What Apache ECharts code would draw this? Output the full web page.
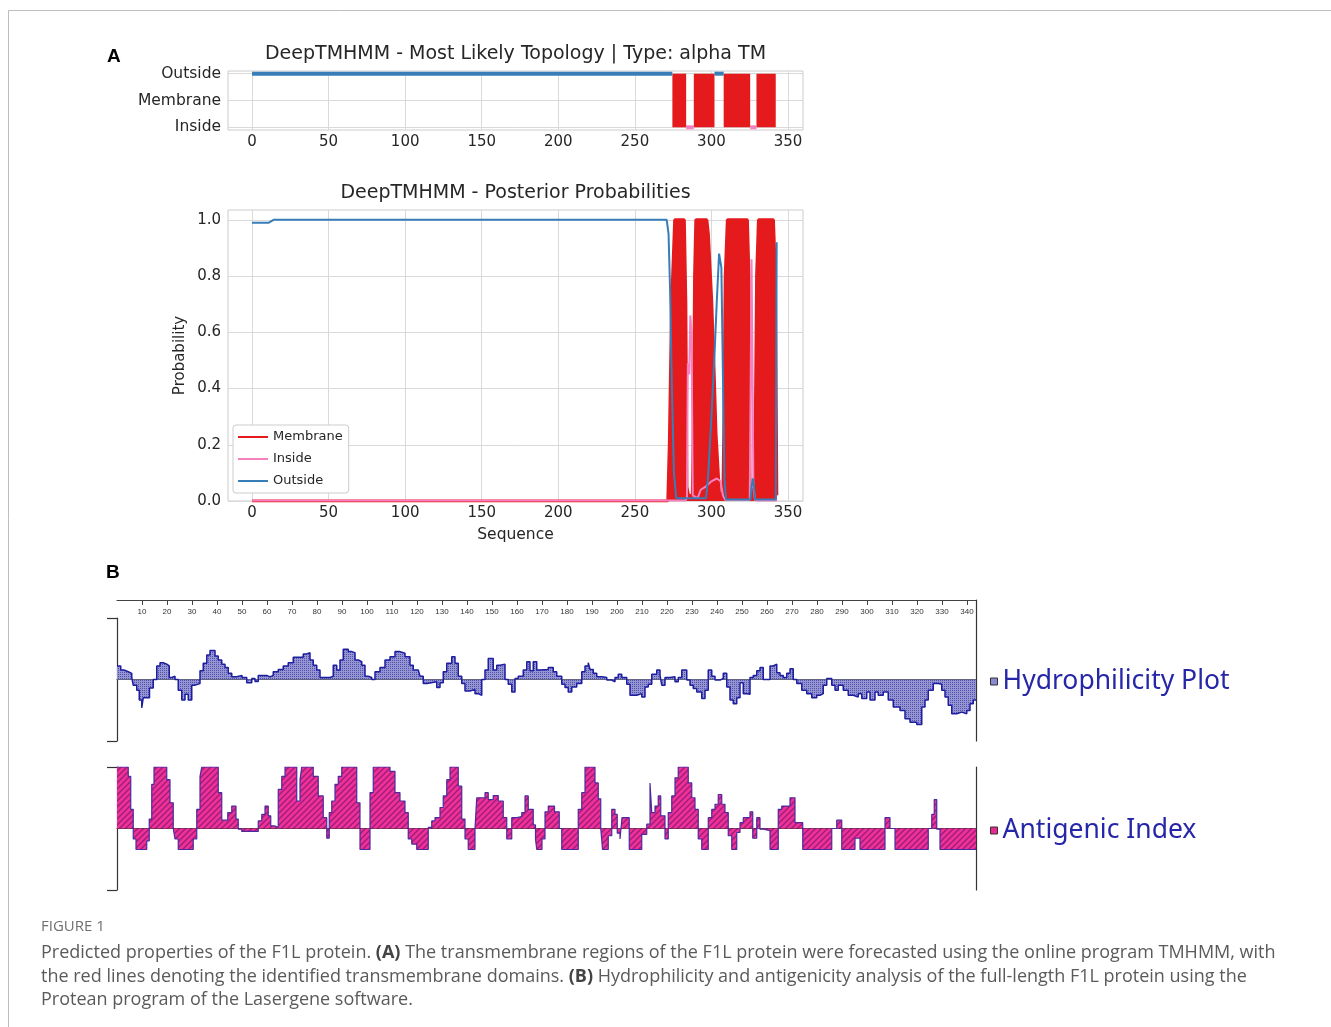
<!DOCTYPE html>
<html>
<head>
<meta charset="utf-8">
<title>F1L protein</title>
<script src="https://cdn.jsdelivr.net/npm/echarts@6/dist/echarts.min.js"></script>
<style>
html, body { margin: 0; padding: 0; background: #fff; }
#chart { width: 1331px; height: 1027px; }
</style>
</head>
<body>
<div id="chart"></div>
<script>
// ---------- panel A: DeepTMHMM ----------
var topoStart = [0, 274.5, 283.5, 288.5, 302, 308, 325.3, 329.4];
var topoEnd   = [274.5, 283.5, 288.5, 302, 308, 325.3, 329.4, 342];
var topoState = ['Outside', 'Membrane', 'Inside', 'Membrane', 'Outside', 'Membrane', 'Inside', 'Membrane'];
var topoLevels = ['Inside', 'Membrane', 'Outside'];
var seqTicks = [0, 50, 100, 150, 200, 250, 300, 350];
var probTicks = [0, 0.2, 0.4, 0.6, 0.8, 1.0];

// posterior probabilities (sequence position, probability)
var memX = [0, 271.5, 272.5, 274, 276, 282.3, 283.3, 284, 285, 287.5, 288.3, 289, 289.8, 297, 298, 300.2, 301.7, 303, 305.2, 307.5, 308.2, 309, 310.4, 323.5, 324.5, 325.2, 328, 328.7, 329.5, 330.7, 340.5, 341.8, 342.7];
var memP = [0, 0, 0.2, 0.7, 1, 1, 0.7, 0.05, 0.02, 0.02, 0.3, 0.8, 1, 1, 0.95, 0.71, 0.47, 0.24, 0.03, 0.02, 0.3, 0.8, 1, 1, 0.8, 0.05, 0.03, 0.3, 0.8, 1, 1, 0.8, 0.02];
var insX = [0, 283, 284, 284.6, 285.5, 286.2, 287, 287.8, 291, 293, 296, 300, 303.5, 306, 307.5, 309, 325, 325.6, 326.2, 326.8, 327.4, 328.5, 342.6];
var insP = [0.002, 0.002, 0.01, 0.49, 0.45, 0.66, 0.6, 0.02, 0.01, 0.04, 0.05, 0.07, 0.08, 0.07, 0.02, 0.004, 0.004, 0.4, 0.86, 0.5, 0.05, 0.002, 0.002];
var outX = [0, 11, 14, 270.8, 272, 273, 274.2, 275.5, 277, 296.5, 298, 300, 302, 303.5, 305, 306.5, 307.5, 308.5, 309.5, 325.5, 326.2, 327, 327.8, 328.5, 342, 342.6];
var outP = [0.99, 0.99, 1, 1, 0.95, 0.75, 0.4, 0.1, 0.01, 0.01, 0.1, 0.3, 0.52, 0.71, 0.88, 0.83, 0.45, 0.08, 0.005, 0.005, 0.05, 0.08, 0.05, 0.005, 0.005, 0.92];

// ---------- panel B: Protean ----------
var seqLength = 343.6;
var hydroStart = [0, 1.5, 2.8, 4.5, 5.9, 6.5, 7.9, 8.9, 9.9, 10.5, 13, 14.5, 15.9, 17.2, 18.5, 19.9, 20.9, 21.9, 23.2, 24.5, 25.9, 27.2, 28.5, 29.9, 31, 33.2, 34.5, 35.9, 37.2, 39.2, 40.5, 41.9, 43.2, 44.5, 45.9, 47.9, 50, 51.9, 53.9, 55.2, 56.5, 59.9, 61.2, 62.5, 64.5, 66.5, 68.5, 70.5, 74.5, 75.9, 77.2, 78.5, 79.9, 81.2, 85.2, 86.5, 87.9, 89.2, 90.5, 92.5, 93.9, 95.2, 96.5, 97.9, 99.2, 100.5, 101.9, 103.2, 105.2, 107.2, 109.2, 111.2, 113.2, 115.2, 117.2, 118.5, 120.5, 121.2, 122.5, 124, 127.9, 129.2, 130.5, 131.9, 133.9, 135.2, 136.5, 137.9, 139.2, 141.2, 143.2, 144.5, 145.9, 147.2, 148.5, 150.5, 151.9, 153.2, 155.2, 156.5, 157.9, 159.2, 160.5, 162.5, 163.9, 165.2, 166.5, 167.9, 169.2, 172.5, 174.5, 175.9, 177.9, 179.2, 180.5, 181.9, 183.9, 185.9, 187.2, 188.5, 189.2, 190.5, 191.9, 193.9, 195.9, 197.9, 199.2, 200.5, 201.9, 203.9, 205.2, 207.9, 209.9, 211.2, 212.5, 213.9, 215.9, 217.2, 217.9, 219.2, 221.2, 223.2, 224.5, 225.9, 227.9, 229.2, 230.5, 231.9, 233.9, 235.2, 236.5, 237.9, 239.2, 241.2, 242.5, 243.9, 245.2, 246.5, 247.9, 249.2, 250.5, 251.9, 253.2, 254.5, 255.9, 257.2, 258.5, 261.2, 262.5, 263.9, 265.2, 266.5, 267.9, 269.2, 270.5, 271.9, 273.9, 275.9, 277.9, 279.9, 281.2, 282.5, 283.9, 285.9, 287.2, 288.5, 290.5, 292.5, 294.5, 296.5, 297.9, 299.9, 301.2, 303.2, 304.5, 306.5, 308.5, 310.5, 313.2, 315.2, 317.2, 319.9, 321.9, 323.2, 324.5, 326.5, 328.5, 329.9, 331.2, 332.5, 333.9, 335.9, 337.9, 339.9, 341.2, 342.5];
var hydroValue = [0.66, 0.46, 0.38, 0.3, 0.1, -0.28, -0.52, -1.0, -1.38, -0.89, -0.41, 0, 0.66, 0.82, 0.75, 0.66, 0.1, 0.16, 0, -0.52, -1.0, -0.72, -1.0, -0.28, -0.2, 0.43, 0.79, 1.2, 1.41, 1.15, 0.95, 0.75, 0.59, 0.3, 0.13, 0.2, 0.1, -0.16, 0.05, -0.1, 0.2, 0.13, 0.2, 0.38, 0.49, 0.66, 0.82, 1.08, 1.25, 1.31, 0.95, 0.7, 0.46, 0.1, 0.16, 0.7, 0.46, 0.95, 1.48, 1.36, 1.31, 0.95, 0.87, 0.7, 0.16, 0.1, 0, 0.38, 0.59, 0.95, 1.11, 1.36, 1.28, 1.11, 0.7, 0.46, 0.38, 0.16, -0.2, -0.11, -0.39, -0.16, 0.38, 0.79, 1.11, 0.79, 0.16, -0.2, -0.56, -0.49, -0.69, -0.77, 0, 0.46, 1.03, 0.46, 0.7, 0.75, 0, -0.23, -0.61, 0.05, 0.16, 0.46, 0.87, 0.43, 0.87, 0.46, 0.49, 0.59, 0.38, 0.16, -0.23, -0.39, -0.61, -0.36, -0.2, 0.38, 0.66, 0.82, 0.49, 0.3, 0.13, 0.1, -0.03, -0.11, 0.1, 0.26, 0.1, -0.23, -0.77, -0.69, -0.85, -0.36, -0.23, 0.26, 0.46, 0.2, -0.28, 0.1, 0.13, -0.11, 0.1, 0.46, -0.03, -0.28, -0.44, -0.61, -0.93, -0.52, 0.46, 0.16, -0.03, 0.05, 0.3, -0.36, -1.0, -1.18, -0.89, -0.16, -0.69, -0.72, 0.1, 0.2, 0.43, 0.59, 0, 0.66, 0.75, 0.33, 0.2, 0.1, 0.3, 0.52, 0, -0.2, -0.52, -0.69, -0.89, -0.77, -0.69, -0.28, 0.05, -0.28, -0.52, -0.28, -0.52, -0.77, -0.85, -0.69, -0.93, -0.61, -1.0, -0.61, -0.77, -0.61, -1.0, -1.34, -1.51, -1.92, -2.08, -2.2, -1.34, -1.0, -0.52, -0.2, -0.23, -0.52, -0.85, -1.26, -1.67, -1.59, -1.67, -1.51, -1.18, -1.0];

var antiStart = [0, 4.5, 5.5, 6.5, 7.6, 11.9, 12.9, 13.9, 14.8, 19.9, 21.2, 22.5, 23.2, 24.5, 30.5, 31.9, 33.2, 33.9, 40.5, 41.9, 44.3, 45.9, 47.6, 48.5, 49.9, 56.5, 57.9, 59.2, 60.5, 61.5, 63.2, 64.5, 65.9, 67.2, 71.9, 73.2, 73.9, 78.5, 80.5, 82.5, 83.9, 84.9, 85.9, 87.2, 88.5, 89.9, 95.9, 97.2, 101.2, 102.5, 109.2, 111.2, 113.2, 115.2, 116.5, 117.9, 119.9, 124.5, 125.9, 127.2, 129.2, 130.5, 131.9, 133.2, 136.5, 137.9, 139.2, 140.5, 143.2, 143.9, 147.2, 148.5, 150.5, 152.5, 154.5, 155.9, 157.9, 159.9, 161.9, 163.2, 164.5, 166.5, 167.4, 167.9, 170, 171.2, 172.5, 175, 176.9, 177.9, 184.5, 185.9, 187.2, 191.2, 192.5, 193.5, 194.2, 196.5, 197.9, 199.2, 200.1, 201.2, 202, 204.9, 209.9, 211.9, 213.2, 213.9, 215.2, 216.5, 217.5, 219.2, 220.5, 221.9, 223.2, 224.5, 228.5, 229.9, 231.2, 232.5, 233.9, 236.5, 237.9, 239.2, 240.5, 241.9, 243.2, 244.5, 245.9, 247.9, 249.2, 250.5, 253.2, 254.3, 255.9, 257.2, 258.5, 261.2, 264.5, 265.9, 269.2, 271.2, 274.3, 285.9, 287.9, 289.9, 295.2, 297.2, 307.2, 309.2, 311.2, 324.5, 325.9, 326.9, 327.9, 329.2];
var antiValue = [1.7, 1.44, 0.53, -0.29, -0.58, -0.34, 0.26, 1.22, 1.7, 1.35, 0.71, 0, -0.29, -0.58, -0.29, 0.53, 1.44, 1.7, 0.99, 0.23, 0.44, 0.62, 0.26, -0.02, -0.08, 0.21, 0.39, 0.62, 0.35, 0.07, 0.03, 1.08, 1.44, 1.7, 0.76, 1.35, 1.7, 1.44, 0.9, 0.3, -0.27, 0.44, 0.76, 1.22, 1.44, 1.7, 0.71, -0.58, 0.99, 1.7, 1.58, 0.99, 0.76, 0.44, -0.29, -0.43, -0.58, 0.03, 0.21, 0.3, 0.58, 0.9, 1.35, 1.7, 1.17, 0.26, -0.29, -0.58, 0, 0.85, 0.99, 0.8, 0.91, 0.76, 0.3, -0.29, 0.3, 0.33, 0.44, 0.9, 0.53, 0.1, -0.29, -0.58, -0.29, 0.46, 0.62, 0.46, 0, -0.58, 0.53, 0.99, 1.7, 1.26, 0.82, 0, -0.58, -0.2, 0.53, 0.39, -0.13, -0.29, 0.3, -0.58, -0.16, 0.12, 1.26, 0.44, 0.62, 0.9, 0.35, -0.29, 0.44, 0.9, 1.4, 1.7, 1.26, 0.85, 0.53, -0.29, -0.58, 0.3, 0.53, 0.67, 0.94, 0.67, 0.44, -0.2, -0.58, -0.11, 0.16, 0.3, 0.46, -0.27, 0.3, -0.02, -0.06, -0.58, 0.53, 0.62, 0.85, 0.16, -0.58, 0, 0.23, -0.58, -0.27, -0.58, 0.3, 0, -0.58, 0, 0.39, 0.8, -0.02, -0.58];

var RED = '#e41a1c', PINK = '#f781bf', BLUE = '#377eb8';
var INK = '#262626';
var MPL = '"DejaVu Sans", sans-serif';

function pairs(xs, ys) {
	return xs.map(function (x, i) { return [x, ys[i]]; });
}
function steps(starts, values) {
	var d = pairs(starts, values);
	d.push([seqLength, values[values.length - 1]]);
	return d;
}

// hatch fills like the Protean plots
var hydroFill = document.createElement('canvas');
hydroFill.width = 4; hydroFill.height = 4;
(function () {
	var c = hydroFill.getContext('2d');
	c.fillStyle = '#9595d4'; c.fillRect(0, 0, 4, 4);
	c.fillStyle = '#5252aa';
	c.fillRect(0, 0, 1, 1); c.fillRect(2, 2, 1, 1);
	c.fillRect(2, 0, 1, 1); c.fillRect(0, 2, 1, 1);
})();
var antiFill = document.createElement('canvas');
antiFill.width = 6; antiFill.height = 6;
(function () {
	var c = antiFill.getContext('2d');
	c.fillStyle = '#ef3096'; c.fillRect(0, 0, 6, 6);
	c.strokeStyle = '#9a1d7c'; c.lineWidth = 1.3;
	c.beginPath();
	c.moveTo(-1, 7); c.lineTo(7, -1);
	c.moveTo(-1, 1); c.lineTo(1, -1);
	c.moveTo(5, 7); c.lineTo(7, 5);
	c.stroke();
})();

var series = [];
topoStart.forEach(function (s, i) {
	var st = topoState[i];
	if (st === 'Membrane') {
		series.push({
			type: 'line', xAxisIndex: 0, yAxisIndex: 0, symbol: 'none', silent: true, z: 2,
			data: [[s, 2], [topoEnd[i], 2]],
			lineStyle: { width: 0 },
			areaStyle: { color: RED, opacity: 1 }
		});
	} else {
		var lvl = topoLevels.indexOf(st);
		series.push({
			type: 'line', xAxisIndex: 0, yAxisIndex: 0, symbol: 'none', silent: true, z: 3,
			data: [[s, lvl], [topoEnd[i], lvl]],
			lineStyle: { color: st === 'Outside' ? BLUE : PINK, width: 4 }
		});
	}
});
series.push({
	name: 'Membrane', type: 'line', xAxisIndex: 1, yAxisIndex: 1, symbol: 'none', z: 2,
	data: pairs(memX, memP), itemStyle: { color: RED },
	lineStyle: { color: RED, width: 3 }, areaStyle: { color: RED, opacity: 1 }
});
series.push({
	name: 'Inside', type: 'line', xAxisIndex: 1, yAxisIndex: 1, symbol: 'none', z: 3,
	data: pairs(insX, insP), itemStyle: { color: PINK },
	lineStyle: { color: PINK, width: 2 }
});
series.push({
	name: 'Outside', type: 'line', xAxisIndex: 1, yAxisIndex: 1, symbol: 'none', z: 4,
	data: pairs(outX, outP), itemStyle: { color: BLUE },
	lineStyle: { color: BLUE, width: 2 }
});
series.push({
	name: 'Hydrophilicity Plot', type: 'line', xAxisIndex: 3, yAxisIndex: 3, symbol: 'none', step: 'end',
	data: steps(hydroStart, hydroValue), itemStyle: { color: '#8a8ad0' },
	lineStyle: { color: '#1e1ea0', width: 1.5 },
	areaStyle: { color: { image: hydroFill, repeat: 'repeat' }, opacity: 1 }
});
series.push({
	name: 'Antigenic Index', type: 'line', xAxisIndex: 4, yAxisIndex: 4, symbol: 'none', step: 'end',
	data: steps(antiStart, antiValue), itemStyle: { color: '#e8288f' },
	lineStyle: { color: '#4a2a9e', width: 1.2 },
	areaStyle: { color: { image: antiFill, repeat: 'repeat' }, opacity: 1 }
});

var mplGrid = { show: true, borderColor: '#cccccc', borderWidth: 1, backgroundColor: '#fff' };
var seqAxis = {
	type: 'value', min: -15.7, max: 359.8,
	axisLine: { show: false },
	axisTick: { show: false, customValues: seqTicks },
	axisLabel: { customValues: seqTicks, fontSize: 15, color: INK, fontFamily: MPL, margin: 5 },
	splitLine: { show: true, lineStyle: { color: '#d9d9d9', width: 1 } }
};
var plainX = {
	type: 'value', min: 0, max: seqLength,
	axisLine: { show: true, onZero: true, lineStyle: { color: '#333', width: 1 } },
	axisTick: { show: false }, axisLabel: { show: false }, splitLine: { show: false }
};
var bracketY = {
	axisLine: { show: true, onZero: false, lineStyle: { color: '#333', width: 1.2 } },
	axisTick: { show: true, length: 10, lineStyle: { color: '#333', width: 1.2 } },
	axisLabel: { show: false }, splitLine: { show: false }
};
var captionRich = { b: { fontSize: 18, fontFamily: 'Open Sans', fontWeight: 'bold', fill: '#444' } };

var option = {
	animation: false,
	backgroundColor: '#fff',
	grid: [
		Object.assign({ left: 228, top: 71, width: 575, height: 59 }, mplGrid),
		Object.assign({ left: 228, top: 210, width: 575, height: 291 }, mplGrid),
		{ left: 117, top: 600, width: 859, height: 141 },
		{ left: 117, top: 618, width: 859, height: 123 },
		{ left: 117, top: 767, width: 859, height: 123 }
	],
	xAxis: [
		Object.assign({ gridIndex: 0 }, seqAxis),
		Object.assign({
			gridIndex: 1, name: 'Sequence', nameLocation: 'middle', nameGap: 26,
			nameTextStyle: { fontSize: 15.5, color: INK, fontFamily: MPL }
		}, seqAxis),
		{
			gridIndex: 2, type: 'value', position: 'top', min: 0, max: seqLength, interval: 10,
			axisLine: { show: true, onZero: false, lineStyle: { color: '#444', width: 1.2 } },
			axisTick: { show: true, inside: true, length: 5, lineStyle: { color: '#444' } },
			axisLabel: { inside: true, margin: 8, fontSize: 8, color: '#333', fontFamily: 'Liberation Sans', showMinLabel: false, showMaxLabel: false },
			splitLine: { show: false }
		},
		Object.assign({ gridIndex: 3 }, plainX),
		Object.assign({ gridIndex: 4 }, plainX)
	],
	yAxis: [
		{
			gridIndex: 0, type: 'value', min: -0.1, max: 2.1,
			axisLine: { show: false },
			axisTick: { show: false, customValues: [0, 1, 2] },
			axisLabel: {
				customValues: [0, 1, 2], fontSize: 15.5, color: INK, fontFamily: MPL, margin: 7,
				formatter: function (v) { return topoLevels[Math.round(v)]; }
			},
			splitLine: { show: true, lineStyle: { color: '#d9d9d9', width: 1 } }
		},
		{
			gridIndex: 1, type: 'value', min: 0, max: 1.035,
			name: 'Probability', nameLocation: 'middle', nameGap: 40, nameRotate: 90,
			nameTextStyle: { fontSize: 15, color: INK, fontFamily: MPL },
			axisLine: { show: false },
			axisTick: { show: false, customValues: probTicks },
			axisLabel: {
				customValues: probTicks, fontSize: 15, color: INK, fontFamily: MPL, margin: 7,
				formatter: function (v) { return v.toFixed(1); }
			},
			splitLine: { show: true, lineStyle: { color: '#d9d9d9', width: 1 } }
		},
		{
			gridIndex: 2, type: 'value', position: 'right', min: 0, max: 1,
			axisLine: { show: true, onZero: false, lineStyle: { color: '#333', width: 1.2 } },
			axisTick: { show: false }, axisLabel: { show: false }, splitLine: { show: false }
		},
		Object.assign({ gridIndex: 3, type: 'value', min: -3, max: 3, interval: 6 }, bracketY),
		Object.assign({ gridIndex: 4, type: 'value', min: -1.7, max: 1.7, interval: 3.4 }, bracketY),
		{
			gridIndex: 4, type: 'value', position: 'right', min: -1.7, max: 1.7,
			axisLine: { show: true, onZero: false, lineStyle: { color: '#333', width: 1.2 } },
			axisTick: { show: false }, axisLabel: { show: false }, splitLine: { show: false }
		}
	],
	legend: [
		{
			data: ['Membrane', 'Inside', 'Outside'], orient: 'vertical', left: 233, top: 425,
			icon: 'rect', itemWidth: 30, itemHeight: 2, itemGap: 8, selectedMode: false,
			textStyle: { fontSize: 13, color: INK, fontFamily: MPL, lineHeight: 14 },
			backgroundColor: '#fff', borderColor: '#cccccc', borderWidth: 1, borderRadius: 3,
			padding: [5, 6, 5, 5]
		},
		{
			data: [{ name: 'Hydrophilicity Plot', itemStyle: { color: '#8a8ad0', borderColor: '#333', borderWidth: 1 } }],
			left: 985, top: 663, icon: 'rect', itemWidth: 7, itemHeight: 7, selectedMode: false,
			textStyle: { fontSize: 26.5, color: '#2626a8', fontFamily: 'Noto Sans' }
		},
		{
			data: [{ name: 'Antigenic Index', itemStyle: { color: '#e8288f', borderColor: '#333', borderWidth: 1 } }],
			left: 985, top: 812, icon: 'rect', itemWidth: 7, itemHeight: 7, selectedMode: false,
			textStyle: { fontSize: 26.5, color: '#2626a8', fontFamily: 'Noto Sans' }
		}
	],
	graphic: [
		{ type: 'rect', silent: true, shape: { x: 8.5, y: 10.5, width: 1400, height: 1100 }, style: { fill: 'none', stroke: '#bdbdbd', lineWidth: 1 } },
		{ type: 'text', x: 515.5, y: 54, style: { text: 'DeepTMHMM - Most Likely Topology | Type: alpha TM', fontSize: 19, fontFamily: MPL, fill: INK, align: 'center', verticalAlign: 'middle' } },
		{ type: 'text', x: 515.5, y: 193, style: { text: 'DeepTMHMM - Posterior Probabilities', fontSize: 19, fontFamily: MPL, fill: INK, align: 'center', verticalAlign: 'middle' } },
		{ type: 'text', x: 107, y: 57, style: { text: 'A', fontSize: 19, fontWeight: 'bold', fontFamily: 'Liberation Sans', fill: '#000', verticalAlign: 'middle' } },
		{ type: 'text', x: 106, y: 573, style: { text: 'B', fontSize: 19, fontWeight: 'bold', fontFamily: 'Liberation Sans', fill: '#000', verticalAlign: 'middle' } },
		{ type: 'text', x: 41, y: 927, style: { text: 'FIGURE 1', fontSize: 15, fontFamily: 'Open Sans', fill: '#707070', verticalAlign: 'middle' } },
		{ type: 'text', x: 41, y: 953, style: {
			text: 'Predicted properties of the F1L protein. {b|(A)} The transmembrane regions of the F1L protein were forecasted using the online program TMHMM, with',
			fontSize: 18, fontFamily: 'Open Sans', fill: '#5a5a5a', verticalAlign: 'middle', rich: captionRich } },
		{ type: 'text', x: 41, y: 977, style: {
			text: 'the red lines denoting the identified transmembrane domains. {b|(B)} Hydrophilicity and antigenicity analysis of the full-length F1L protein using the',
			fontSize: 18, fontFamily: 'Open Sans', fill: '#5a5a5a', verticalAlign: 'middle', rich: captionRich } },
		{ type: 'text', x: 41, y: 1000, style: { text: 'Protean program of the Lasergene software.', fontSize: 18, fontFamily: 'Open Sans', fill: '#5a5a5a', verticalAlign: 'middle' } }
	],
	series: series
};

var chart = echarts.init(document.getElementById('chart'));
chart.setOption(option);
</script>
</body>
</html>
